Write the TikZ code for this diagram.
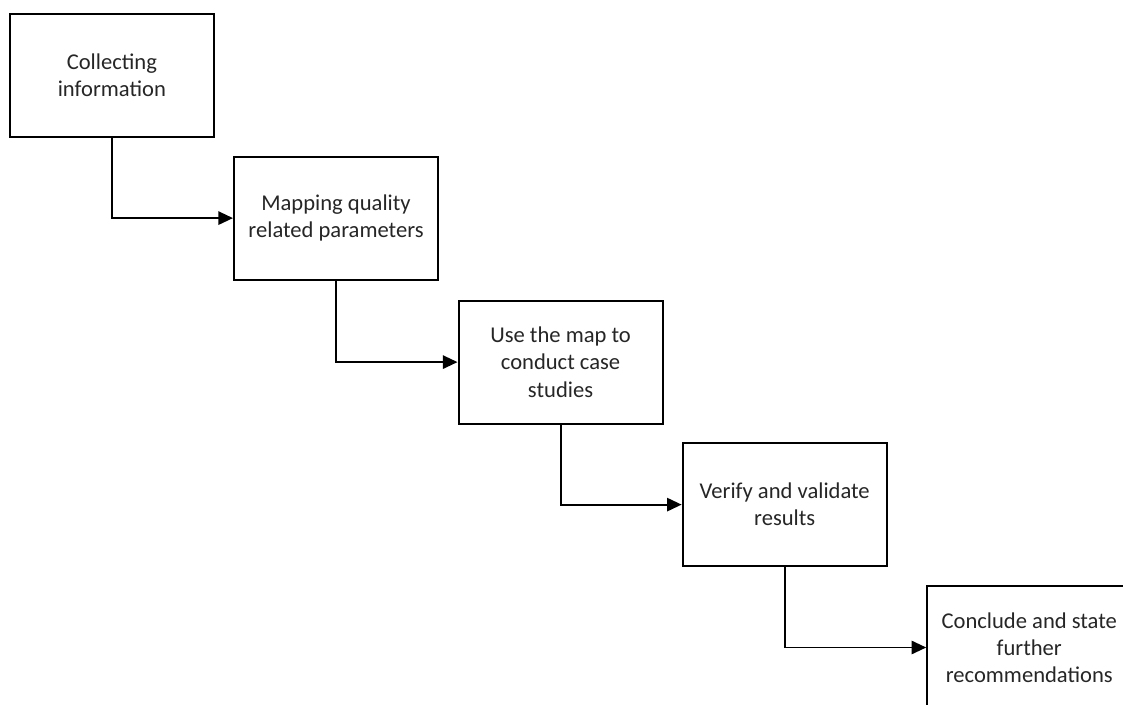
\documentclass[tikz,border=0pt]{standalone}
\usepackage{fontspec}
\setmainfont{Carlito}
\usepackage{tikz}
\usetikzlibrary{positioning, arrows.meta}

\begin{document}
\begin{tikzpicture}[
      stage/.style={draw, line width=1.5pt, minimum width=5.4cm, minimum height=3.25cm, align=center, font=\fontsize{17}{20.5}\selectfont, text=black!85},
      arrow/.style={-{Triangle[length=11pt,width=10pt]}, line width=1.5pt}
    ]
    \useasboundingbox (0,0) rectangle (29.71,-18.65);
    \clip (0,0) rectangle (29.71,-18.65);

    % Stages, stepping down to the right
    \node[stage] (collect)  at (2.96,-2.00)   {Collecting\\information};
    \node[stage] (mapping)  at (8.89,-5.77)   {Mapping quality\\related parameters};
    \node[stage] (cases)    at (14.83,-9.58)  {Use the map to\\conduct case\\studies};
    \node[stage] (verify)   at (20.76,-13.35) {Verify and validate\\results};
    \node[stage] (conclude) at (27.23,-17.13) {Conclude and state\\further\\recommendations};

    % Flow
    \draw[arrow] (collect.south) |- (mapping.west);
    \draw[arrow] (mapping.south) |- (cases.west);
    \draw[arrow] (cases.south) |- (verify.west);
    \draw[arrow] (verify.south) |- (conclude.west);

  \end{tikzpicture}
\end{document}
